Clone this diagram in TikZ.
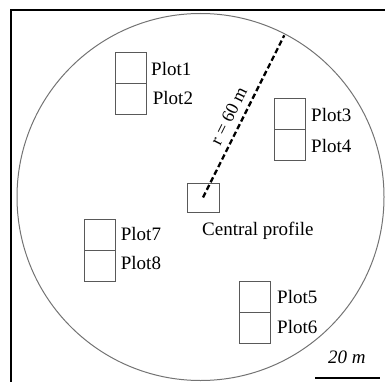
\documentclass[tikz,border=0pt]{standalone}
\usepackage{fontspec}
\setmainfont{Liberation Serif}
\begin{document}
\begin{tikzpicture}[x=1pt,y=-1pt,
  plotbox/.style={draw=black!65,line width=0.9pt,minimum width=31pt,minimum height=31pt,inner sep=0pt,outer sep=0pt},
  centrebox/.style={plotbox,minimum width=32pt,minimum height=29pt},
  lbl/.style={anchor=base west,inner sep=0pt,font=\fontsize{19}{22}\selectfont},
  radius line/.style={line width=2.3pt,dash pattern=on 5.5pt off 3pt},
  frameline/.style={line width=2pt,black}]
\useasboundingbox (0,0) rectangle (385,382);
% frame
\draw[frameline] (11,382) -- (11,10) -- (385,10);
% sampling circle
\draw[black!55,line width=1pt] (200.5,197) circle[radius=183.5];
% plot pairs
\node[plotbox] (p1) at (131.2,67.8) {};
\node[plotbox] (p2) at (131.2,98.8) {};
\node[plotbox] (p3) at (290,114) {};
\node[plotbox] (p4) at (290,145) {};
\node[plotbox] (p7) at (99.5,235) {};
\node[plotbox] (p8) at (99.5,266) {};
\node[plotbox] (p5) at (254.6,297) {};
\node[plotbox] (p6) at (254.6,328) {};
\node[centrebox] (cp) at (203,197.5) {};
% labels
\node[lbl] (l1) at (151,76) {Plot1};
\node[lbl] (l2) at (152.7,104.5) {Plot2};
\node[lbl] (l3) at (311,121.5) {Plot3};
\node[lbl] (l4) at (311,152.2) {Plot4};
\node[lbl] (l7) at (120.7,240.5) {Plot7};
\node[lbl] (l8) at (120.7,269.5) {Plot8};
\node[lbl] (l5) at (277,303.5) {Plot5};
\node[lbl] (l6) at (277,333.5) {Plot6};
\node[lbl] (lc) at (202,235) {Central profile};
% radius
\coordinate (rim) at (284.3,35.3);
\draw[radius line] (cp.center) -- (rim);
\node[inner sep=0pt,font=\fontsize{18}{20}\selectfont,rotate=63.5] (rl) at (228.6,116) {r = 60 m};
% scale bar
\node[lbl,font=\fontsize{19}{22}\itshape] (sb) at (328,363.5) {20 m};
\coordinate (sbl) at (315,377.7);
\coordinate (sbr) at (380,377.7);
\draw[line width=1.8pt] (sbl) -- (sbr);
\end{tikzpicture}
\end{document}
